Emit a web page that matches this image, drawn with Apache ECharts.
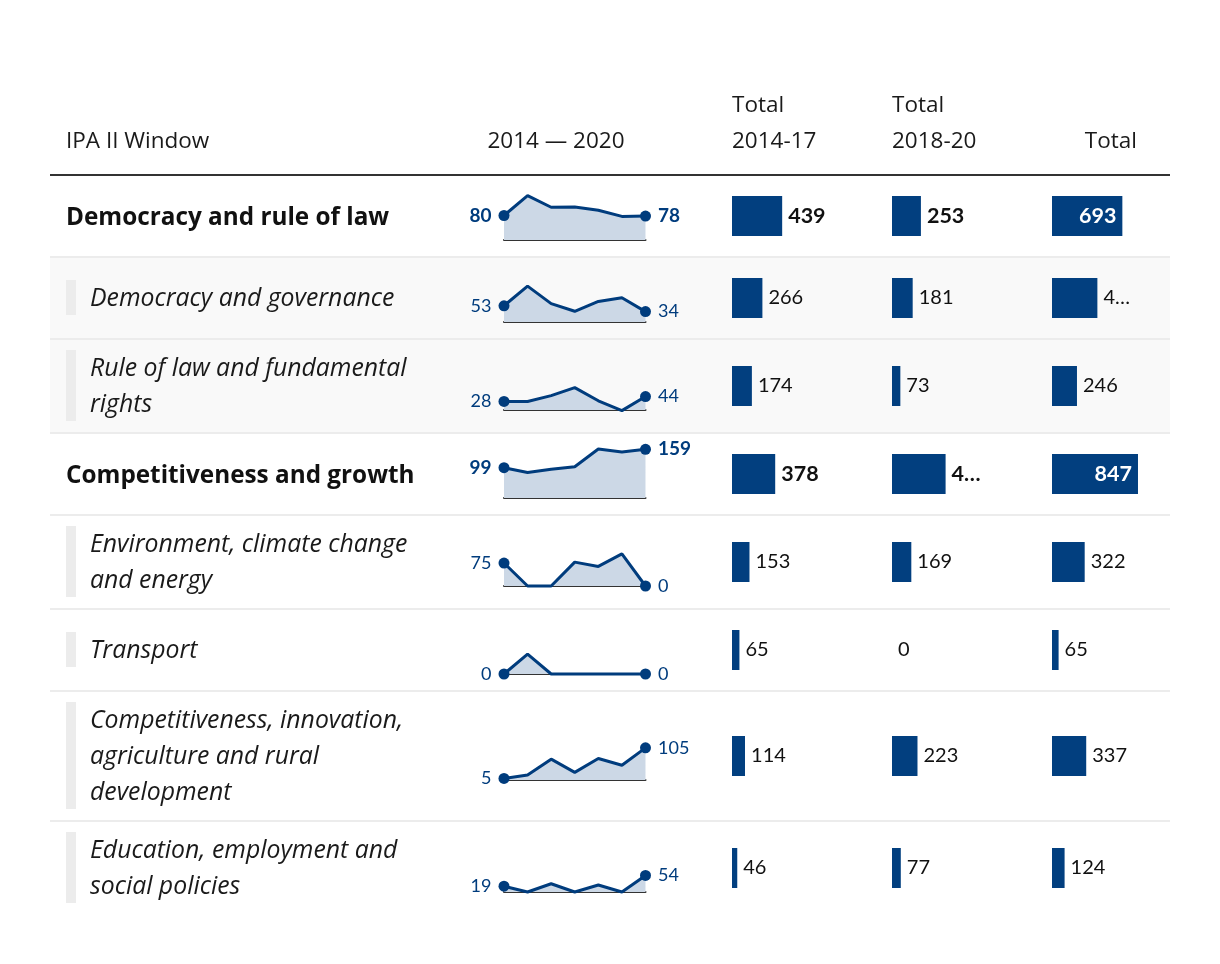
<!DOCTYPE html>
<html><head><meta charset="utf-8">
<script src="https://cdn.jsdelivr.net/npm/echarts@6/dist/echarts.min.js"></script>
<style>html,body{margin:0;padding:0;background:#fff}#c{width:1220px;height:964px}</style>
</head><body><div id="c"></div>
<script>
// ---------- data ----------
const years = ['2014','2015','2016','2017','2018','2019','2020'];
const headers = ['IPA II Window','2014 — 2020','Total\n2014-17','Total\n2018-20','Total'];
const rowLabels = [
  'Democracy and rule of law',
  'Democracy and governance',
  'Rule of law and fundamental\nrights',
  'Competitiveness and growth',
  'Environment, climate change\nand energy',
  'Transport',
  'Competitiveness, innovation,\nagriculture and rural\ndevelopment',
  'Education, employment and\nsocial policies'
];
const isMain = [true,false,false,true,false,false,false,false];
const sparkValues = [
  [80,145,107,108,97,77,78],
  [53,117,60,35,67,79,34],
  [28,28,47,73,30,-2,44],
  [99,83,94,102,160,150,159],
  [75,0,0,78,64,105,0],
  [0,65,0,0,0,0,0],
  [5,16,68,25,70,48,105],
  [19,0,27,0,23,0,54]
];
const total1417 = [439,266,174,378,153,65,114,46];
const total1820 = [253,181,73,469,169,0,223,77];
const totalAll  = [693,447,246,847,322,65,337,124];
const clippedLabels = [[3,1],[1,2]]; // [row, column] shown shortened in the table

// ---------- layout / style ----------
const FONT = 'Lato, "Noto Sans", sans-serif';
const TFONT = '"Open Sans", "Noto Sans", sans-serif';
const BLUE = '#023f7f';
const LINE = '#003c7d';
const AREA = '#ccd8e6';
const TXT = '#1a1a1a';
const barCols = [
  {vals: total1417, left: 732, max: 875},
  {vals: total1820, left: 892, max: 875},
  {vals: totalAll, left: 1052, max: 985}
];

let yy = 175;
const rows = rowLabels.map(t => {
  const n = t.split('\n').length;
  const h = Math.max(82, n * 36 + 22);
  const r = {top: yy, h: h, c: yy + h / 2, n: n};
  yy += h;
  return r;
});

const graphic = [];
function txt(text, x, y, opt) {
  opt = opt || {};
  graphic.push({
    type: 'text', silent: true, z: 5,
    style: Object.assign({
      text: text, x: x, y: y, fill: TXT,
      fontFamily: TFONT, fontSize: 22.5, lineHeight: 36,
      align: opt.align || 'left', textAlign: opt.align || 'left',
      verticalAlign: 'middle', textVerticalAlign: 'middle'
    }, opt.style || {})
  });
}
// header
txt(headers[0], 66, 142);
txt(headers[1], 556, 142, {align: 'center'});
txt(headers[2], 732, 124);
txt(headers[3], 892, 124);
txt(headers[4], 1137, 142, {align: 'right'});
graphic.push({type: 'rect', silent: true, z: 1, shape: {x: 50, y: 174, width: 1120, height: 2}, style: {fill: '#333'}});

rows.forEach((r, i) => {
  if (i === 1 || i === 2) {
    graphic.push({type: 'rect', silent: true, z: 0, shape: {x: 50, y: r.top + 1, width: 1120, height: r.h - 1}, style: {fill: '#f9f9f9'}});
  }
  if (i < rows.length - 1) {
    graphic.push({type: 'rect', silent: true, z: 1, shape: {x: 50, y: r.top + r.h - 1, width: 1120, height: 2}, style: {fill: '#ececec'}});
  }
  if (isMain[i]) {
    txt(rowLabels[i], 66, r.c + 2, {style: {fontWeight: 'bold', fontSize: 24.3, fill: '#111'}});
  } else {
    graphic.push({type: 'rect', silent: true, z: 1, shape: {x: 66, y: r.c - r.n * 18, width: 10, height: r.n * 36 - 1}, style: {fill: '#ececec'}});
    txt(rowLabels[i], 90, r.c + 1, {style: {fontStyle: 'italic', fontSize: 24.8}});
  }
});

const grid = [], xAxis = [], yAxis = [], series = [];
rows.forEach((r, i) => {
  // sparkline
  const k = grid.length;
  const base = r.c + 24;
  grid.push({left: 504, width: 141.5, top: base - 49, height: 49});
  xAxis.push({gridIndex: k, type: 'category', data: years, boundaryGap: false,
    axisLine: {show: true, lineStyle: {color: '#333', width: 2}}, axisTick: {show: false}, axisLabel: {show: false}, splitLine: {show: false}});
  yAxis.push({gridIndex: k, type: 'value', min: 0, max: 160, show: false});
  const vals = sparkValues[i];
  series.push({
    type: 'line', xAxisIndex: k, yAxisIndex: k, clip: false, silent: true, z: 3,
    showSymbol: true,
    data: vals.map((v, j) => (j === 0 || j === vals.length - 1)
      ? {value: v, symbol: 'circle', symbolSize: 11, label: {show: true, position: j === 0 ? 'left' : 'right'}}
      : {value: v, symbol: 'none'}),
    lineStyle: {color: LINE, width: 3}, itemStyle: {color: LINE},
    areaStyle: {color: AREA, opacity: 1},
    label: {show: false, distance: 7, fontSize: isMain[i] ? 19 : 18, fontFamily: FONT, color: LINE, fontWeight: isMain[i] ? 'bold' : 'normal'}
  });
  // bars
  barCols.forEach((col, ci) => {
    const g = grid.length;
    grid.push({left: col.left, width: 100, top: r.c - 20, height: 40});
    xAxis.push({gridIndex: g, type: 'value', min: 0, max: col.max, show: false});
    yAxis.push({gridIndex: g, type: 'category', data: [''], show: false});
    const clipped = clippedLabels.some(p => p[0] === i && p[1] === ci);
    const inside = isMain[i] && ci === 2;
    series.push({
      type: 'bar', xAxisIndex: g, yAxisIndex: g, silent: true, barWidth: 40,
      data: [col.vals[i]], itemStyle: {color: BLUE},
      label: {
        show: true, position: inside ? 'insideRight' : 'right', distance: 6,
        fontFamily: FONT, fontSize: isMain[i] ? 21.5 : 20, color: inside ? '#fff' : '#111',
        fontWeight: isMain[i] ? 'bold' : 'normal',
        formatter: p => clipped ? String(p.value)[0] + '…' : String(p.value)
      }
    });
  });
});

const chart = echarts.init(document.getElementById('c'));
chart.setOption({animation: false, backgroundColor: '#fff', graphic: graphic, grid: grid, xAxis: xAxis, yAxis: yAxis, series: series});
</script></body></html>
